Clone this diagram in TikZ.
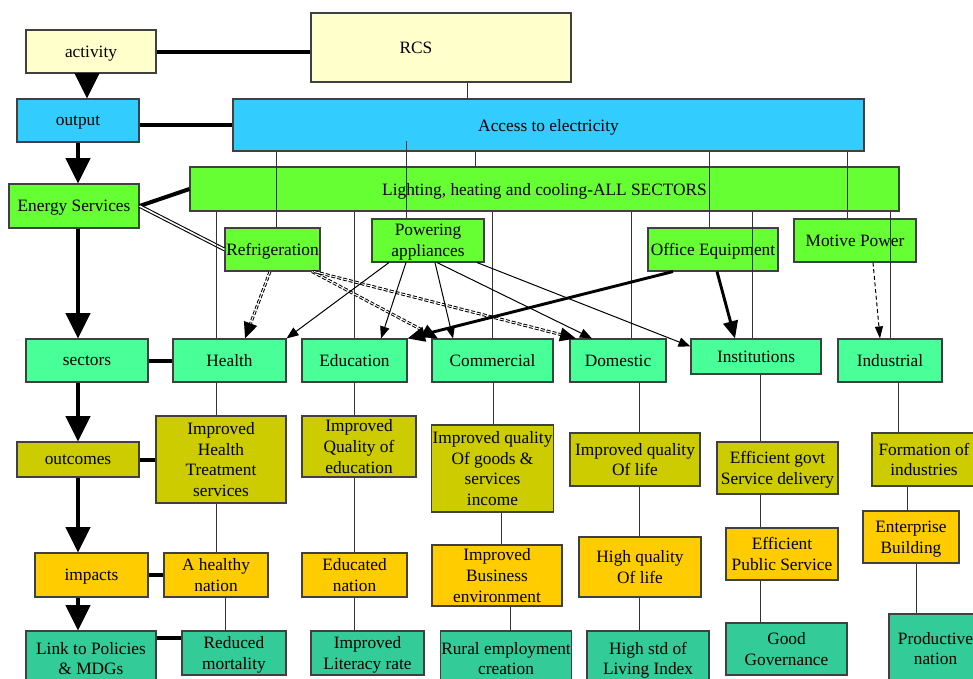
\documentclass[tikz,border=0pt]{standalone}
\usepackage{fontspec}
\setmainfont{Liberation Serif}
\usetikzlibrary{arrows.meta}
\definecolor{cYel}{HTML}{FFFFCC}
\definecolor{cBlue}{HTML}{33CCFF}
\definecolor{cGreen}{HTML}{66FF33}
\definecolor{cMint}{HTML}{48FF98}
\definecolor{cOlive}{HTML}{CCCC00}
\definecolor{cGold}{HTML}{FFCC00}
\definecolor{cTeal}{HTML}{33CC99}
\newcommand\mybox[7]{\node[#7, minimum width={(#4-#2)*0.75pt}, minimum height={(#5-#3)*0.75pt}] (#1) at ({(#2+#4)/2},{(#3+#5)/2}) {#6};}
\begin{document}
\begin{tikzpicture}[x=0.75pt,y=-0.75pt,
  box/.style={draw=black!75, line width=0.8pt, inner sep=0.5pt, align=center, text depth=0pt, font=\fontsize{13}{15.5}\selectfont},
  every label/.style={font=\fontsize{13}{15.5}\selectfont, text depth=0pt},
  bxyel/.style={box,fill=cYel}, bxblue/.style={box,fill=cBlue}, bxgreen/.style={box,fill=cGreen},
  bxmint/.style={box,fill=cMint}, bxolive/.style={box,fill=cOlive}, bxgold/.style={box,fill=cGold},
  bxteal/.style={box,fill=cTeal},
  wire/.style={draw=black!80, line width=0.75pt},
  heavy/.style={line width=3pt},
  bigarrow/.style={heavy, -{Triangle[width=18pt,length=19pt]}},
  parrow/.style={line width=0.75pt, -{Triangle[width=7pt,length=9pt]}},
  oarrow/.style={line width=2.2pt, -{Triangle[width=11pt,length=13pt]}},
  rdash/.style={line width=2.2pt, dash pattern=on 3pt off 1.5pt, -{Triangle[width=10pt,length=12pt]}},
  rdashin/.style={white, line width=0.7pt, dash pattern=on 3pt off 1.5pt, shorten >=12pt},
  mdash/.style={line width=0.75pt, dash pattern=on 3pt off 2pt, -{Triangle[width=6pt,length=9pt]}},
]
\useasboundingbox (0,0) rectangle (973,678);
\fill[white] (0,0) rectangle (973,678);

\mybox{act}{26}{30}{156}{73}{activity}{bxyel}
\mybox{rcs}{311}{13}{571}{82}{}{bxyel, label={[xshift=-18.75pt]center:RCS}}
\mybox{out}{17}{99}{139}{142}{output}{bxblue}
\mybox{acc}{233}{99}{864}{151}{Access to electricity}{bxblue}
\mybox{es}{9}{184}{139}{228}{Energy Services}{bxgreen}
\mybox{light}{190}{167}{899}{211}{Lighting, heating and cooling-ALL SECTORS}{bxgreen}
\mybox{refr}{225}{228}{320}{271}{Refrigeration}{bxgreen}
\mybox{pow}{372}{219}{484}{262}{Powering\\appliances}{bxgreen}
\mybox{office}{648}{228}{778}{271}{Office Equipment}{bxgreen}
\mybox{motive}{794}{219}{916}{262}{Motive Power}{bxgreen}
\mybox{sec}{26}{339}{148}{382}{sectors}{bxmint}
\mybox{health}{173}{339}{286}{382}{Health}{bxmint}
\mybox{edu}{302}{339}{407}{382}{Education}{bxmint}
\mybox{comm}{432}{339}{553}{382}{Commercial}{bxmint}
\mybox{dom}{570}{339}{666}{382}{Domestic}{bxmint}
\mybox{inst}{691}{339}{821}{374}{Institutions}{bxmint}
\mybox{ind}{838}{339}{942}{382}{Industrial}{bxmint}
\mybox{outc}{17}{442}{139}{477}{outcomes}{bxolive}
\mybox{ihealth}{156}{416}{286}{503}{Improved\\Health\\Treatment\\services}{bxolive}
\mybox{iedu}{302}{416}{416}{477}{Improved\\Quality of\\education}{bxolive}
\mybox{igoods}{432}{425}{553}{512}{Improved quality\\Of goods \&\\services\\income}{bxolive}
\mybox{ilife}{570}{433}{700}{486}{Improved quality\\Of life}{bxolive}
\mybox{govt}{717}{442}{838}{494}{Efficient govt\\Service delivery}{bxolive}
\mybox{form}{872}{433}{976}{486}{Formation of\\industries}{bxolive}
\mybox{imp}{35}{553}{148}{597}{impacts}{bxgold}
\mybox{healthy}{164}{553}{268}{597}{A healthy\\nation}{bxgold}
\mybox{educ}{302}{553}{407}{597}{Educated\\nation}{bxgold}
\mybox{ibus}{432}{545}{562}{606}{Improved\\Business\\environment}{bxgold}
\mybox{hql}{579}{537}{701}{597}{High quality\\Of life}{bxgold}
\mybox{pubs}{726}{528}{838}{580}{Efficient\\Public Service}{bxgold}
\mybox{ent}{863}{511}{959}{563}{Enterprise\\Building}{bxgold}
\mybox{link}{26}{631}{156}{686}{Link to Policies\\\& MDGs}{bxteal}
\mybox{red}{182}{631}{286}{675}{Reduced\\mortality}{bxteal}
\mybox{lit}{311}{631}{424}{675}{Improved\\Literacy rate}{bxteal}
\mybox{rural}{441}{631}{571}{686}{Rural employment\\creation}{bxteal}
\mybox{hstd}{587}{631}{709}{686}{High std of\\Living Index}{bxteal}
\mybox{gov}{726}{623}{847}{675}{Good\\Governance}{bxteal}
\mybox{prod}{889}{614}{982}{683}{Productive\\nation}{bxteal}

% left column heavy connectors
\draw[heavy] (act.east) -- (act.east -| rcs.west);
\draw[heavy] (acc.west -| out.east) -- (acc.west);
\draw[bigarrow] (act.south -| 87,0) -- (out.north -| 87,0);
\draw[bigarrow] (out.south -| 78,0) -- (es.north -| 78,0);
\draw[heavy] (es.east) -- (light.west);
\draw[line width=0.8pt, double, double distance=1.2pt] (es.east) -- (refr.west);
\draw[bigarrow] (es.south -| 78,0) -- (sec.north -| 78,0);
\draw[heavy] (sec.east) -- (health.west);
\draw[bigarrow] (sec.south -| 78,0) -- (outc.north -| 78,0);
\draw[heavy] (outc.east) -- (outc.east -| ihealth.west);
\draw[bigarrow] (outc.south -| 78,0) -- (imp.north -| 78,0);
\draw[heavy] (imp.east) -- (imp.east -| healthy.west);
\draw[bigarrow] (imp.south -| 78,0) -- (link.north -| 78,0);
\draw[heavy] ([yshift=-6pt]link.north east) -- ([yshift=-6pt]red.north west);

% thin wires
\coordinate (accin) at (406,141);
\draw[wire] (rcs.south -| 467,0) -- (acc.north -| 467,0);
\draw[wire] (acc.south -| 276,0) -- (refr.north -| 276,0);
\draw[wire] (accin) -- (pow.north -| accin);
\draw[wire] (acc.south -| 475,0) -- (light.north -| 475,0);
\draw[wire] (acc.south -| 709,0) -- (office.north -| 709,0);
\draw[wire] (acc.south -| 847,0) -- (motive.north -| 847,0);
\draw[wire] (light.south -| 216,0) -- (health.north -| 216,0);
\draw[wire] (light.south -| 354,0) -- (edu.north -| 354,0);
\draw[wire] (light.south -| 492,0) -- (comm.north -| 492,0);
\draw[wire] (light.south -| 631,0) -- (dom.north -| 631,0);
\draw[wire] (light.south -| 752,0) -- (inst.north -| 752,0);
\draw[wire] (light.south -| 890,0) -- (ind.north -| 890,0);
\draw[wire] (health.south -| 216,0) -- (ihealth.north -| 216,0);
\draw[wire] (ihealth.south -| 216,0) -- (healthy.north -| 216,0);
\draw[wire] (healthy.south -| 225,0) -- (red.north -| 225,0);
\draw[wire] (edu.south -| 354,0) -- (iedu.north -| 354,0);
\draw[wire] (iedu.south -| 354,0) -- (educ.north -| 354,0);
\draw[wire] (educ.south -| 354,0) -- (lit.north -| 354,0);
\draw[wire] (comm.south -| 493,0) -- (igoods.north -| 493,0);
\draw[wire] (igoods.south -| 501,0) -- (ibus.north -| 501,0);
\draw[wire] (ibus.south -| 510,0) -- (rural.north -| 510,0);
\draw[wire] (dom.south -| 639,0) -- (ilife.north -| 639,0);
\draw[wire] (ilife.south -| 639,0) -- (hql.north -| 639,0);
\draw[wire] (hql.south -| 639,0) -- (hstd.north -| 639,0);
\draw[wire] (inst.south -| 760,0) -- (govt.north -| 760,0);
\draw[wire] (govt.south -| 760,0) -- (pubs.north -| 760,0);
\draw[wire] (pubs.south -| 760,0) -- (gov.north -| 760,0);
\draw[wire] (ind.south -| 898,0) -- (form.north -| 898,0);
\draw[wire] (form.south -| 907,0) -- (ent.north -| 907,0);
\draw[wire] (ent.south -| 916,0) -- (prod.north -| 916,0);

% refrigeration double dashed arrows
\draw[rdash] (refr.south -| 270,0) -- (health.north -| 245,0);
\draw[rdashin] (refr.south -| 270,0) -- (health.north -| 245,0);
\draw[rdash] (refr.south -| 312,0) -- (comm.north -| 438,0);
\draw[rdashin] (refr.south -| 312,0) -- (comm.north -| 438,0);
\draw[rdash] (refr.south -| 314,0) -- (dom.north -| 576,0);
\draw[rdashin] (refr.south -| 314,0) -- (dom.north -| 576,0);

% powering appliances arrows
\draw[parrow] (pow.south -| 389,0) -- (health.north east);
\draw[parrow] (pow.south -| 406,0) -- (edu.north -| 381,0);
\draw[parrow] (pow.south -| 435,0) -- (comm.north -| 453,0);
\draw[parrow] (pow.south -| 437,0) -- (dom.north -| 592,0);
\draw[parrow] (pow.south -| 477,0) -- ([yshift=-6pt]inst.north west);

% office equipment arrows
\draw[oarrow] (office.south -| 673,0) -- (edu.north east);
\draw[oarrow] (office.south -| 717,0) -- (inst.north -| 735,0);

% motive power arrow
\draw[mdash] (motive.south -| 873,0) -- (ind.north -| 880,0);
\end{tikzpicture}
\end{document}
